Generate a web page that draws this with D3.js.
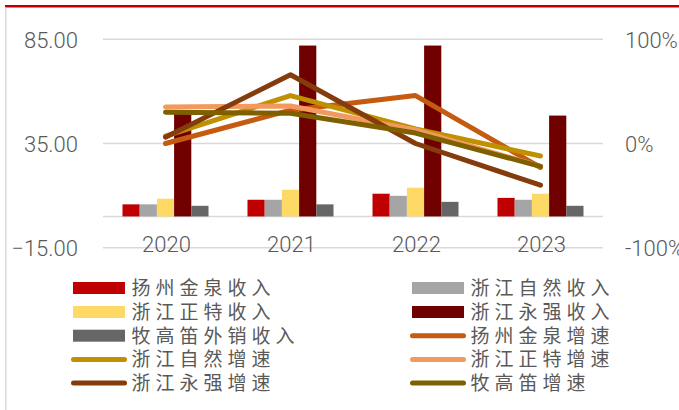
<!DOCTYPE html>
<html>
<head>
<meta charset="utf-8">
<script src="https://cdn.jsdelivr.net/npm/d3@7"></script>
<style>
  body { margin: 0; background: #fff; }
  text { fill: #595959; }
</style>
</head>
<body>
<div class="chart"></div>
<script>
// categories
const years = ["2020", "2021", "2022", "2023"];

// income (left axis)
const incomeNames = ["扬州金泉收入", "浙江自然收入", "浙江正特收入", "浙江永强收入", "牧高笛外销收入"];
const jinquanIncome = [5.8, 8.0, 10.9, 8.9];
const ziranIncome = [5.8, 8.0, 9.9, 8.0];
const zhengteIncome = [8.5, 12.8, 13.8, 10.9];
const yongqiangIncome = [50, 82, 82, 48.4];
const mugaodiIncome = [5.1, 5.8, 7.0, 5.1];

// growth (right axis, %)
const growthNames = ["扬州金泉增速", "浙江自然增速", "浙江正特增速", "浙江永强增速", "牧高笛增速"];
const jinquanGrowth = [0, 32, 46, -23];
const ziranGrowth = [7, 46, 14, -12];
const zhengteGrowth = [35, 36, 13, -22];
const yongqiangGrowth = [6, 66, 0, -40];
const mugaodiGrowth = [30, 29, 10, -22];

const leftTicks = [-15, 35, 85];
const rightTicks = [-100, 0, 100];

const barColors = ["#C00000", "#A5A5A5", "#FFD966", "#700000", "#666666"];
const lineColors = ["#C55A11", "#BF9000", "#F29A5E", "#843C0C", "#7F6000"];

const incomes = [jinquanIncome, ziranIncome, zhengteIncome, yongqiangIncome, mugaodiIncome];
const growths = [jinquanGrowth, ziranGrowth, zhengteGrowth, yongqiangGrowth, mugaodiGrowth];

const W = 679, H = 410;
const plot = {left: 103, right: 603, top: 39.3, bottom: 247.7};

const svg = d3.select(".chart").append("svg")
    .attr("width", W)
    .attr("height", H);

// frame
svg.append("line")
    .attr("x1", 5).attr("x2", W).attr("y1", 6.2).attr("y2", 6.2)
    .attr("stroke", "#C00000").attr("stroke-width", 2.5);
svg.append("line")
    .attr("x1", 5.8).attr("x2", 5.8).attr("y1", 7.5).attr("y2", H)
    .attr("stroke", "#D9D9D9").attr("stroke-width", 1.5);

// scales
const x = d3.scaleBand().domain(years).range([plot.left, plot.right]).paddingInner(0).paddingOuter(0);
const groupW = 86;
const xs = d3.scaleBand().domain(incomeNames).range([0, groupW]);
const yL = d3.scaleLinear().domain([-15, 85]).range([plot.bottom, plot.top]);
const yR = d3.scaleLinear().domain([-100, 100]).range([plot.bottom, plot.top]);

// gridlines
svg.append("g").selectAll("line")
    .data(leftTicks)
    .join("line")
    .attr("x1", plot.left).attr("x2", plot.right)
    .attr("y1", d => yL(d)).attr("y2", d => yL(d))
    .attr("stroke", "#D9D9D9").attr("stroke-width", 1.5);

// category axis at 0
svg.append("line")
    .attr("x1", plot.left).attr("x2", plot.right)
    .attr("y1", yL(0)).attr("y2", yL(0))
    .attr("stroke", "#D9D9D9").attr("stroke-width", 1.5);

// left axis labels
svg.append("g").selectAll("text")
    .data(leftTicks)
    .join("text")
    .attr("x", 78)
    .attr("y", d => yL(d) + 8.5)
    .attr("text-anchor", "end")
    .style("font-family", "Roboto, 'Noto Sans', sans-serif")
    .style("font-weight", 300)
    .style("font-size", "22px")
    .text(d => d3.format(".2f")(d));

// right axis labels
svg.append("g").selectAll("text")
    .data(rightTicks)
    .join("text")
    .attr("x", 625)
    .attr("y", d => yR(d) + 8.5)
    .attr("text-anchor", "start")
    .style("font-family", "Roboto, 'Noto Sans', sans-serif")
    .style("font-weight", 300)
    .style("font-size", "22px")
    .text(d => d + "%");

// category labels
svg.append("g").selectAll("text")
    .data(years)
    .join("text")
    .attr("x", d => x(d) + x.bandwidth() / 2 + 1)
    .attr("y", 252)
    .attr("text-anchor", "middle")
    .style("font-family", "Roboto, 'Noto Sans', sans-serif")
    .style("font-weight", 300)
    .style("font-size", "22px")
    .text(d => d);

// bars
incomes.forEach((vals, i) => {
    svg.append("g").selectAll("rect")
        .data(vals)
        .join("rect")
        .attr("x", (d, j) => x(years[j]) + (x.bandwidth() - groupW) / 2 + xs(incomeNames[i]))
        .attr("width", xs.bandwidth())
        .attr("y", d => yL(Math.max(d, 0)))
        .attr("height", d => Math.abs(yL(d) - yL(0)))
        .attr("fill", barColors[i]);
});

// lines
const line = d3.line()
    .x((d, j) => x(years[j]) + x.bandwidth() / 2)
    .y(d => yR(d));

growths.forEach((vals, i) => {
    svg.append("path")
        .datum(vals)
        .attr("d", line)
        .attr("fill", "none")
        .attr("stroke", lineColors[i])
        .attr("stroke-width", 5)
        .attr("stroke-linejoin", "round")
        .attr("stroke-linecap", "round");
});

// legend
const legendItems = [
    {name: incomeNames[0], type: "bar", color: barColors[0]},
    {name: incomeNames[1], type: "bar", color: barColors[1]},
    {name: incomeNames[2], type: "bar", color: barColors[2]},
    {name: incomeNames[3], type: "bar", color: barColors[3]},
    {name: incomeNames[4], type: "bar", color: barColors[4]},
    {name: growthNames[0], type: "line", color: lineColors[0]},
    {name: growthNames[1], type: "line", color: lineColors[1]},
    {name: growthNames[2], type: "line", color: lineColors[2]},
    {name: growthNames[3], type: "line", color: lineColors[3]},
    {name: growthNames[4], type: "line", color: lineColors[4]}
];

const colX = [73, 412];
const rowY = [288, 312, 335.7, 359.4, 383];

const lg = svg.append("g").selectAll("g")
    .data(legendItems)
    .join("g")
    .attr("transform", (d, i) => `translate(${colX[i % 2]},${rowY[Math.floor(i / 2)]})`);

lg.filter(d => d.type === "bar").append("rect")
    .attr("x", 0).attr("y", -6)
    .attr("width", 52).attr("height", 12)
    .attr("fill", d => d.color);

lg.filter(d => d.type === "line").append("line")
    .attr("x1", 0.5).attr("x2", 51.5)
    .attr("y1", 0).attr("y2", 0)
    .attr("stroke", d => d.color)
    .attr("stroke-width", 5)
    .attr("stroke-linecap", "round");

lg.append("text")
    .attr("x", 58.5)
    .attr("y", 0)
    .attr("dy", "0.36em")
    .style("font-family", "'Noto Sans CJK SC', sans-serif")
    .style("font-size", "19px")
    .style("letter-spacing", "5px")
    .text(d => d.name);
</script>
</body>
</html>
